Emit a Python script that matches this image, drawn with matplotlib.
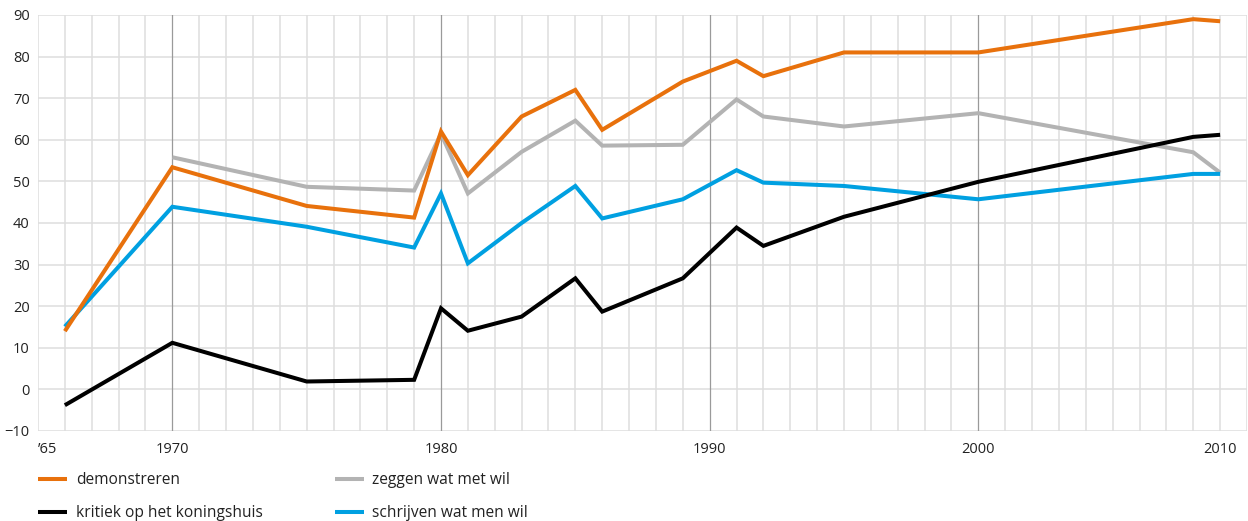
import matplotlib
matplotlib.use('Agg')
import matplotlib.pyplot as plt
import numpy as np

plt.rcParams['font.family'] = ['Open Sans', 'DejaVu Sans']

# plaats op de as (de grafiek zet '65 en 2010 een jaar verschoven)
jaren = [1966, 1970, 1975, 1979, 1980, 1981, 1983, 1985, 1986, 1989, 1991, 1992, 1995, 2000, 2008, 2009]

demonstreren = [14.0, 53.4, 44.1, 41.3, 62.0, 51.5, 65.6, 72.0, 62.4, 74.0, 79.0, 75.3, 81.0, 81.0, 89.0, 88.5]
koningshuis = [-3.8, 11.2, 1.9, 2.3, 19.5, 14.1, 17.5, 26.7, 18.7, 26.7, 38.9, 34.5, 41.5, 49.9, 60.7, 61.2]
zeggen = [None, 55.8, 48.7, 47.8, 61.5, 47.1, 57.1, 64.6, 58.6, 58.8, 69.7, 65.6, 63.2, 66.4, 57.0, 52.1]
schrijven = [15.1, 43.9, 39.1, 34.1, 47.1, 30.3, 40.0, 48.9, 41.1, 45.7, 52.7, 49.7, 48.9, 45.7, 51.8, 51.8]

x_ticks = [1965, 1970, 1980, 1990, 2000, 2009]
x_labels = ["\u201965", "1970", "1980", "1990", "2000", "2010"]
y_ticks = list(range(-10, 91, 10))

fig = plt.figure(figsize=(12.48, 5.21), dpi=100)
ax = fig.add_axes([38/1248, 1 - 431/521, (1247-38)/1248, (431-15)/521])

# raster: elk jaar een lichte lijn, decennia donkerder
for j in range(1965, 2011):
    if j in (1970, 1980, 1990, 2000):
        ax.axvline(j, color='#9a9a9a', lw=0.9, zorder=1)
    else:
        ax.axvline(j, color='#dedede', lw=1.1, zorder=0)
for v in y_ticks:
    ax.axhline(v, color='#dedede', lw=1.1, zorder=0)

def teken(waarden, kleur, label):
    xs = [x for x, w in zip(jaren, waarden) if w is not None]
    ys = [w for w in waarden if w is not None]
    return ax.plot(xs, ys, color=kleur, lw=2.9, label=label, zorder=3,
                   solid_joinstyle='miter', solid_capstyle='butt')[0]

l1 = teken(zeggen, '#b3b3b3', 'zeggen wat met wil')
l2 = teken(schrijven, '#00a0e1', 'schrijven wat men wil')
l3 = teken(demonstreren, '#e8710c', 'demonstreren')
l4 = teken(koningshuis, '#000000', 'kritiek op het koningshuis')

ax.set_xlim(1965, 2010)
ax.set_ylim(-10, 90)
ax.set_xticks(x_ticks)
ax.set_xticklabels(x_labels)
ax.set_yticks(y_ticks)
ax.tick_params(length=0, labelsize=10.5, colors='#222222')
ax.tick_params(axis='x', pad=8)
ax.tick_params(axis='y', pad=6)
ax.get_xticklabels()[0].set_horizontalalignment('left')
for s in ax.spines.values():
    s.set_visible(False)

fig.legend([l3, l4, l1, l2],
           ['demonstreren', 'kritiek op het koningshuis', 'zeggen wat met wil', 'schrijven wat men wil'],
           loc='upper left', bbox_to_anchor=(38/1248, 1 - 472/521), ncol=2, frameon=False,
           fontsize=11.2, handlelength=1.86, handletextpad=0.56, columnspacing=4.65,
           labelspacing=1.1, borderpad=0, borderaxespad=0, labelcolor='#222222')

fig.savefig('out.png', dpi=100)
